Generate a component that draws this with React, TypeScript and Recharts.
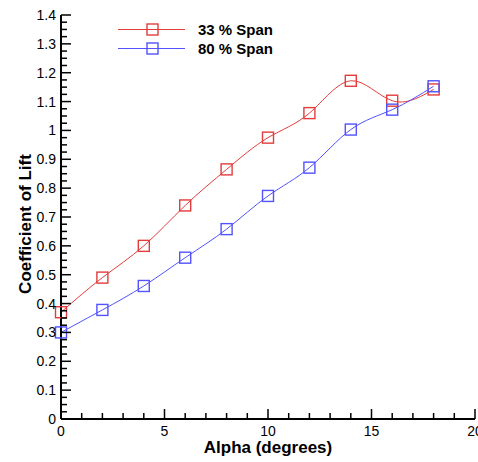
import React from "react";
import { LineChart, Line, XAxis, YAxis, Legend, Label } from "recharts";

// angle of attack (degrees)
const alpha = [0, 2, 4, 6, 8, 10, 12, 14, 16, 18];
// lift coefficient at 33 % span
const span33 = [0.37, 0.49, 0.6, 0.74, 0.865, 0.975, 1.06, 1.172, 1.103, 1.142];
// lift coefficient at 80 % span
const span80 = [0.3, 0.378, 0.461, 0.559, 0.658, 0.773, 0.871, 1.003, 1.072, 1.153];

const xMajorTicks = [0, 5, 10, 15, 20];
const yMajorTicks = [0, 0.1, 0.2, 0.3, 0.4, 0.5, 0.6, 0.7, 0.8, 0.9, 1, 1.1, 1.2, 1.3, 1.4];

// minor ticks: 1 degree on x, 0.025 on y
const xTicks = Array.from({ length: 21 }, (_, i) => i);
const yTicks = Array.from({ length: 57 }, (_, i) => Math.round(i * 25) / 1000);

const RED = "#e23c3c";
const BLUE = "#5252ff";
const FONT = "'Liberation Sans', Arial, sans-serif";

const data = alpha.map((a, i) => ({ alpha: a, s33: span33[i], s80: span80[i] }));

const isMajor = (v: number, majors: number[]) => majors.some((m) => Math.abs(m - v) < 1e-6);

const XTick = (props: any) => {
  const { x, y, payload } = props;
  const major = isMajor(payload.value, xMajorTicks);
  return (
    <g>
      <line x1={x} y1={y} x2={x} y2={y - (major ? 10 : 6)} stroke="#000" strokeWidth={1.5} />
      {major && (
        <text x={x} y={y + 17} textAnchor="middle" fontSize={14} fontFamily={FONT} fill="#000">
          {payload.value}
        </text>
      )}
    </g>
  );
};

const YTick = (props: any) => {
  const { x, y, payload } = props;
  const major = isMajor(payload.value, yMajorTicks);
  return (
    <g>
      <line x1={x} y1={y} x2={x + (major ? 10 : 6)} y2={y} stroke="#000" strokeWidth={1.5} />
      {major && (
        <text x={x - 5} y={y + 5} textAnchor="end" fontSize={14} fontFamily={FONT} fill="#000">
          {String(Math.round(payload.value * 10) / 10)}
        </text>
      )}
    </g>
  );
};

const squareDot = (color: string) => (props: any) => {
  const { cx, cy, index } = props;
  return (
    <rect
      key={`d-${index}`}
      x={cx - 5.5}
      y={cy - 5.5}
      width={11}
      height={11}
      fill="none"
      stroke={color}
      strokeWidth={1.4}
    />
  );
};

const renderLegend = (props: any) => {
  const { payload } = props;
  return (
    <div>
      {payload.map((entry: any) => (
        <div key={entry.value} style={{ display: "flex", alignItems: "center", height: 19 }}>
          <svg width={67} height={19}>
            <line x1={0} y1={9.5} x2={67} y2={9.5} stroke={entry.color} strokeWidth={1} />
            <rect x={29} y={4} width={11} height={11} fill="none" stroke={entry.color} strokeWidth={1.4} />
          </svg>
          <span
            style={{
              marginLeft: 13,
              fontFamily: FONT,
              fontWeight: "bold",
              fontSize: 15,
              color: "#000",
              whiteSpace: "nowrap",
            }}
          >
            {entry.value}
          </span>
        </div>
      ))}
    </div>
  );
};

export default function App() {
  return (
    <div style={{ position: "absolute", left: 0, top: 0, background: "#fff" }}>
      <LineChart width={478} height={462} data={data} margin={{ top: 15, right: 3, left: 0, bottom: 0 }}>
        <XAxis
          dataKey="alpha"
          type="number"
          domain={[0, 20]}
          ticks={xTicks}
          interval={0}
          height={43}
          tickSize={0}
          tickMargin={0}
          tickLine={false}
          tick={<XTick />}
          axisLine={{ stroke: "#000", strokeWidth: 2 }}
        >
          <Label
            content={(p: any) => {
              const vb = p.viewBox;
              return (
                <text
                  x={vb.x + vb.width / 2}
                  y={vb.y + 34}
                  textAnchor="middle"
                  fontSize={17}
                  fontWeight="bold"
                  fontFamily={FONT}
                  fill="#000"
                >
                  Alpha (degrees)
                </text>
              );
            }}
          />
        </XAxis>
        <YAxis
          type="number"
          domain={[0, 1.4]}
          ticks={yTicks}
          interval={0}
          width={61}
          tickSize={0}
          tickMargin={0}
          tickLine={false}
          tick={<YTick />}
          axisLine={{ stroke: "#000", strokeWidth: 2 }}
        >
          <Label
            content={(p: any) => {
              const vb = p.viewBox;
              const cx = vb.x + 31;
              const cy = vb.y + vb.height / 2 + 7;
              return (
                <text
                  x={cx}
                  y={cy}
                  transform={`rotate(-90 ${cx} ${cy})`}
                  textAnchor="middle"
                  fontSize={17}
                  fontWeight="bold"
                  fontFamily={FONT}
                  fill="#000"
                >
                  Coefficient of Lift
                </text>
              );
            }}
          />
        </YAxis>
        <Legend
          layout="vertical"
          align="center"
          verticalAlign="middle"
          wrapperStyle={{ left: 118, top: 20, width: "auto" }}
          content={renderLegend}
        />
        <Line
          name="33 % Span"
          dataKey="s33"
          type="natural"
          stroke={RED}
          strokeWidth={1}
          dot={squareDot(RED)}
          activeDot={false}
          isAnimationActive={false}
        />
        <Line
          name="80 % Span"
          dataKey="s80"
          type="natural"
          stroke={BLUE}
          strokeWidth={1}
          dot={squareDot(BLUE)}
          activeDot={false}
          isAnimationActive={false}
        />
      </LineChart>
    </div>
  );
}
